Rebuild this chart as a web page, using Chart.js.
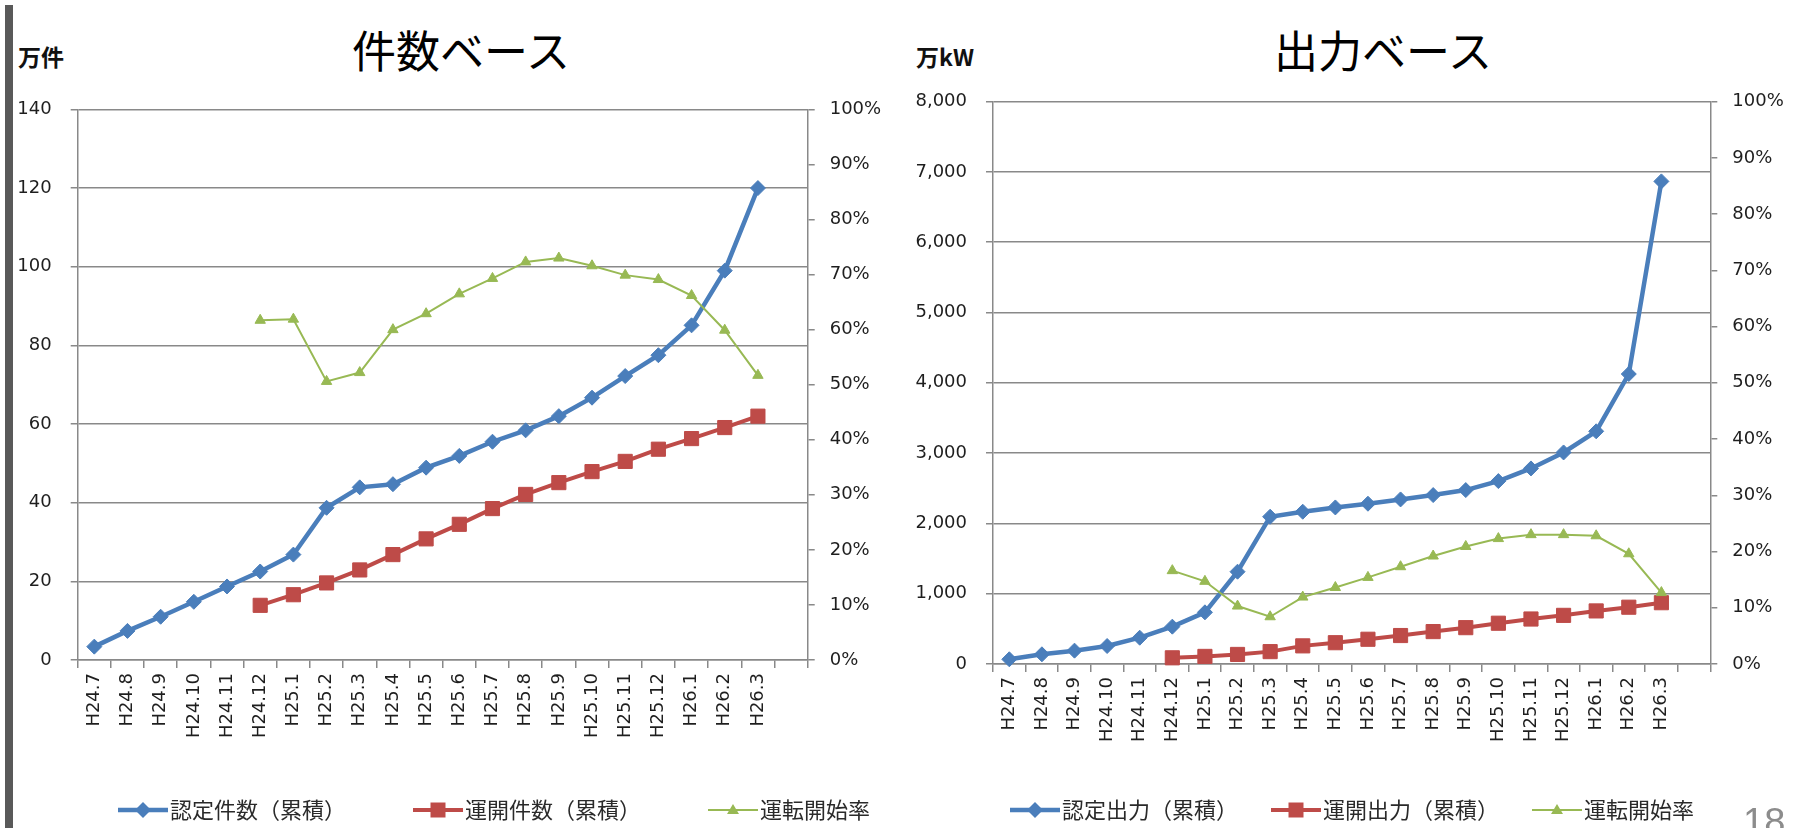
<!DOCTYPE html>
<html lang="ja">
<head>
<meta charset="utf-8">
<title>認定・運転開始の推移</title>
<script src="https://cdn.jsdelivr.net/npm/chart.js@4.4.1/dist/chart.umd.min.js"></script>
<style>
    html, body { margin: 0; padding: 0; width: 1796px; height: 828px; overflow: hidden; background: #fff; }
    canvas { position: absolute; top: 0; }
    .side-bar { position: absolute; left: 5px; top: 5px; width: 8px; height: 823px; background: #595959; }
    .chart-title { position: absolute; top: 20px; font: 44px "Noto Sans CJK JP"; line-height: 58px; color: #000; transform: translateX(-50%); white-space: nowrap; }
    .unit { position: absolute; top: 41px; font: bold 23px "Noto Sans CJK JP"; line-height: 30px; color: #111; white-space: nowrap; }
    .page-no { position: absolute; left: 1743px; top: 803px; font: 38px "Liberation Sans"; line-height: 38px; color: #8c8c8c; }
</style>
</head>
<body>
<div class="side-bar"></div>
<div class="chart-title" style="left:461px">件数ベース</div>
<div class="chart-title" style="left:1383px">出力ベース</div>
<div class="unit" style="left:18px">万件</div>
<div class="unit" style="left:916px">万kW</div>
<canvas id="countChart" width="941" height="840" style="left:0"></canvas>
<canvas id="outputChart" width="895" height="840" style="left:898px"></canvas>
<div class="page-no">18</div>

<script>
// 月次の区分（最後の空欄は軸の余白分）
const months = ['H24.7', 'H24.8', 'H24.9', 'H24.10', 'H24.11', 'H24.12', 'H25.1', 'H25.2', 'H25.3',
    'H25.4', 'H25.5', 'H25.6', 'H25.7', 'H25.8', 'H25.9', 'H25.10', 'H25.11', 'H25.12', 'H26.1', 'H26.2', 'H26.3', ''];

// 件数ベース（万件）
const certCount = [3.4, 7.4, 11.0, 14.8, 18.7, 22.5, 26.8, 38.7, 43.9, 44.7, 48.9, 51.9, 55.5, 58.4, 62.0, 66.7, 72.2, 77.5, 85.1, 99.0, 120.0, null];
const openCount = [null, null, null, null, null, 13.9, 16.6, 19.6, 22.9, 26.8, 30.8, 34.5, 38.5, 42.1, 45.1, 47.9, 50.5, 53.6, 56.3, 59.1, 62.0, null];
const countRate = [null, null, null, null, null, 61.7, 61.9, 50.6, 52.2, 60.0, 62.9, 66.5, 69.3, 72.3, 73.0, 71.6, 69.9, 69.1, 66.2, 59.9, 51.7, null];

// 出力ベース（万kW）
const certOutput = [67, 138, 190, 256, 374, 531, 735, 1313, 2095, 2166, 2227, 2280, 2341, 2403, 2474, 2602, 2782, 3009, 3310, 4125, 6865, null];
const openOutput = [null, null, null, null, null, 88, 108, 136, 176, 258, 303, 352, 405, 461, 517, 580, 640, 692, 755, 808, 872, null];
const outputRate = [null, null, null, null, null, 16.6, 14.7, 10.3, 8.4, 11.9, 13.6, 15.4, 17.3, 19.2, 20.9, 22.3, 23.0, 23.0, 22.8, 19.6, 12.7, null];

// 目盛
const countTicks = [0, 20, 40, 60, 80, 100, 120, 140];
const outputTicks = [0, 1000, 2000, 3000, 4000, 5000, 6000, 7000, 8000];
const rateTicks = [0, 10, 20, 30, 40, 50, 60, 70, 80, 90, 100];

const BLUE = '#4a7ebb';
const RED = '#be4b48';
const GREEN = '#98b954';
const GRID = '#898989';
const TEXT = '#1e1e1e';
const NUM_FONT = { family: '"DejaVu Sans"', size: 18 };
const JP_FONT = { family: '"Noto Sans CJK JP"', size: 22 };

const fitPage = {
    charts: {},

    init() {
        this.charts.count = this.buildChart('countChart', {
            names: ['認定件数（累積）', '運開件数（累積）', '運転開始率'],
            cert: certCount, open: openCount, rate: countRate,
            ticks: countTicks, max: 140, format: v => String(v),
            top: 109.4, leftWidth: 77.7, rightWidth: 133.3, xHeight: 119, legendLead: 56
        });

        this.charts.output = this.buildChart('outputChart', {
            names: ['認定出力（累積）', '運開出力（累積）', '運転開始率'],
            cert: certOutput, open: openOutput, rate: outputRate,
            ticks: outputTicks, max: 8000, format: v => v.toLocaleString('en-US'),
            top: 101.6, leftWidth: 95, rightWidth: 82.7, xHeight: 115, legendLead: 22
        });
    },

    // 凡例用の「線＋マーカー」画像（左側の透明部分で項目間をあける）
    makeMarker(color, lineWidth, shape, lead) {
        const c = document.createElement('canvas');
        c.width = 50 + lead;
        c.height = 22;
        const ctx = c.getContext('2d');
        const cx = lead + 25;
        ctx.strokeStyle = color;
        ctx.fillStyle = color;
        ctx.lineWidth = lineWidth;
        ctx.beginPath();
        ctx.moveTo(lead, 11);
        ctx.lineTo(lead + 50, 11);
        ctx.stroke();
        ctx.beginPath();
        if (shape === 'diamond') {
            ctx.moveTo(cx, 3); ctx.lineTo(cx + 8, 11); ctx.lineTo(cx, 19); ctx.lineTo(cx - 8, 11);
        } else if (shape === 'square') {
            ctx.rect(cx - 7.5, 3.5, 15, 15);
        } else {
            ctx.moveTo(cx, 5); ctx.lineTo(cx + 6, 15); ctx.lineTo(cx - 6, 15);
        }
        ctx.closePath();
        ctx.fill();
        return c;
    },

    buildChart(canvasId, cfg) {
        const ctx = document.getElementById(canvasId).getContext('2d');
        const markers = [
            this.makeMarker(BLUE, 4.5, 'diamond', cfg.legendLead),
            this.makeMarker(RED, 4, 'square', cfg.legendLead),
            this.makeMarker(GREEN, 2, 'triangle', cfg.legendLead)
        ];
        const line = { fill: false, tension: 0, clip: false, pointBorderWidth: 1, spanGaps: false };

        return new Chart(ctx, {
            type: 'line',
            data: {
                labels: months,
                datasets: [
                    { ...line, label: cfg.names[0], data: cfg.cert, yAxisID: 'y', order: 3,
                      borderColor: BLUE, backgroundColor: BLUE, borderWidth: 4.5,
                      pointStyle: 'rectRot', pointRadius: 7.5 },
                    { ...line, label: cfg.names[1], data: cfg.open, yAxisID: 'y', order: 2,
                      borderColor: RED, backgroundColor: RED, borderWidth: 4,
                      pointStyle: 'rect', pointRadius: 10 },
                    { ...line, label: cfg.names[2], data: cfg.rate, yAxisID: 'y1', order: 1,
                      borderColor: GREEN, backgroundColor: GREEN, borderWidth: 2,
                      pointStyle: 'triangle', pointRadius: 6 }
                ]
            },
            options: {
                responsive: false,
                animation: false,
                events: [],
                layout: { padding: { top: cfg.top, left: 0, right: 0, bottom: 9 } },
                plugins: {
                    tooltip: { enabled: false },
                    legend: {
                        position: 'bottom',
                        labels: {
                            usePointStyle: true,
                            pointStyleWidth: 32 + cfg.legendLead,
                            padding: 20,
                            font: JP_FONT,
                            color: '#2a2a2a',
                            sort: (a, b) => a.datasetIndex - b.datasetIndex,
                            generateLabels(chart) {
                                const items = Chart.defaults.plugins.legend.labels.generateLabels(chart);
                                items.forEach(item => { item.pointStyle = markers[item.datasetIndex]; });
                                return items;
                            }
                        }
                    }
                },
                scales: {
                    x: {
                        offset: true,
                        grid: { offset: true, drawOnChartArea: false, tickLength: 8, color: GRID, lineWidth: 1.5 },
                        border: { color: GRID, width: 1.5 },
                        ticks: { autoSkip: false, minRotation: 90, maxRotation: 90, padding: 5, font: NUM_FONT, color: TEXT },
                        afterFit: s => { s.height = cfg.xHeight; }
                    },
                    y: {
                        position: 'left',
                        min: 0,
                        max: cfg.max,
                        afterBuildTicks: s => { s.ticks = cfg.ticks.map(v => ({ value: v })); },
                        grid: { color: GRID, lineWidth: 1.5, tickLength: 7 },
                        border: { color: GRID, width: 1.5 },
                        ticks: { padding: 19, font: NUM_FONT, color: TEXT, callback: cfg.format },
                        afterFit: s => { s.width = cfg.leftWidth; }
                    },
                    y1: {
                        position: 'right',
                        min: 0,
                        max: 100,
                        afterBuildTicks: s => { s.ticks = rateTicks.map(v => ({ value: v })); },
                        grid: { drawOnChartArea: false, color: GRID, lineWidth: 1.5, tickLength: 7 },
                        border: { color: GRID, width: 1.5 },
                        ticks: { padding: 15, font: NUM_FONT, color: TEXT, callback: v => v + '%' },
                        afterFit: s => { s.width = cfg.rightWidth; }
                    }
                }
            }
        });
    }
};

document.addEventListener('DOMContentLoaded', function() {
    fitPage.init();
});
</script>
</body>
</html>
